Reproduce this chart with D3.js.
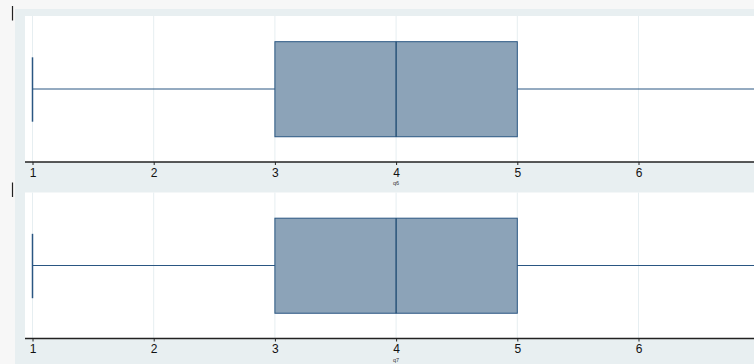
<!DOCTYPE html>
<html>
<head>
<meta charset="utf-8">
<script src="https://cdn.jsdelivr.net/npm/d3@7"></script>
<style>
  html, body { margin: 0; padding: 0; background: #f7f7f7; }
  svg { display: block; }
  text { font-family: "Liberation Sans", Arial, sans-serif; }
</style>
</head>
<body>
<svg id="chart" width="754" height="364"></svg>
<script>
// Variables shown as horizontal box plots
const variables = ["q6", "q7"];
// Five-number summaries: min (lower whisker), q1, median, q3, max (upper whisker)
const whiskerLow  = [1, 1];
const quartile1   = [3, 3];
const medians     = [4, 4];
const quartile3   = [5, 5];
const whiskerHigh = [7, 7];
const tickValues  = [1, 2, 3, 4, 5, 6];

const svg = d3.select("#chart");
const W = 754, H = 364;

const panelTop = 9, panelLeft = 15;
const plotLeft = 25, plotRight = 800;
const panelStep = 176.5;
const plotTop0 = 16, plotBottom0 = 162;

const x = d3.scaleLinear().domain([1, 6]).range([32.5, 638.5]);

// light graph region behind both panels
svg.append("rect")
  .attr("x", panelLeft).attr("y", panelTop)
  .attr("width", W - panelLeft).attr("height", H - panelTop)
  .attr("fill", "#e8eff1");

variables.forEach((v, i) => {
  const off = i * panelStep;
  const top = plotTop0 + off, bottom = plotBottom0 + off;
  const y = d3.scaleLinear().domain([0, 1]).range([bottom, top]);
  const g = svg.append("g");

  // small marker at the left of each panel
  g.append("line")
    .attr("x1", 12.5).attr("x2", 12.5)
    .attr("y1", 6 + off).attr("y2", 20.5 + off)
    .attr("stroke", "#222").attr("stroke-width", 1.2);

  // white plot region
  g.append("rect")
    .attr("x", plotLeft).attr("y", top)
    .attr("width", plotRight - plotLeft).attr("height", bottom - top)
    .attr("fill", "#ffffff");

  // vertical grid lines
  g.selectAll(".grid").data(tickValues).enter().append("line")
    .attr("x1", d => x(d)).attr("x2", d => x(d))
    .attr("y1", top).attr("y2", bottom)
    .attr("stroke", "#e6eef1").attr("stroke-width", 1);

  const mid = y(0.5);
  const boxTop = y(0.824), boxBot = y(0.173);
  const capTop = y(0.717), capBot = y(0.276);
  const stroke = "#2a5682";

  // whisker line
  g.append("line")
    .attr("x1", x(whiskerLow[i])).attr("x2", x(whiskerHigh[i]))
    .attr("y1", mid).attr("y2", mid)
    .attr("stroke", stroke).attr("stroke-width", 1);

  // whisker caps
  [whiskerLow[i], whiskerHigh[i]].forEach(val => {
    g.append("line")
      .attr("x1", x(val)).attr("x2", x(val))
      .attr("y1", capTop).attr("y2", capBot)
      .attr("stroke", stroke).attr("stroke-width", 1.5);
  });

  // box
  g.append("rect")
    .attr("x", x(quartile1[i])).attr("y", boxTop)
    .attr("width", x(quartile3[i]) - x(quartile1[i]))
    .attr("height", boxBot - boxTop)
    .attr("fill", "#8ca3b8")
    .attr("stroke", stroke).attr("stroke-width", 1);

  // median
  g.append("line")
    .attr("x1", x(medians[i])).attr("x2", x(medians[i]))
    .attr("y1", boxTop).attr("y2", boxBot)
    .attr("stroke", "#1a476f").attr("stroke-width", 1.3);

  // x axis
  const axis = d3.axisBottom(x).tickValues(tickValues)
    .tickSizeInner(3).tickSizeOuter(0).tickPadding(3)
    .tickFormat(d3.format("d"));
  const ax = g.append("g").attr("transform", `translate(0,${bottom})`).call(axis);
  ax.select(".domain").remove();
  ax.append("line")
    .attr("x1", plotLeft).attr("x2", plotRight)
    .attr("y1", 0).attr("y2", 0)
    .attr("stroke", "#222").attr("stroke-width", 1.3);
  ax.selectAll(".tick line").attr("stroke", "#222");
  ax.selectAll(".tick text")
    .attr("fill", "#111")
    .style("font-size", "12px");

  // axis title
  g.append("text")
    .attr("x", x(4)).attr("y", bottom + 23)
    .attr("text-anchor", "middle")
    .attr("fill", "#333")
    .style("font-size", "5.5px")
    .text(v);
});
</script>
</body>
</html>
